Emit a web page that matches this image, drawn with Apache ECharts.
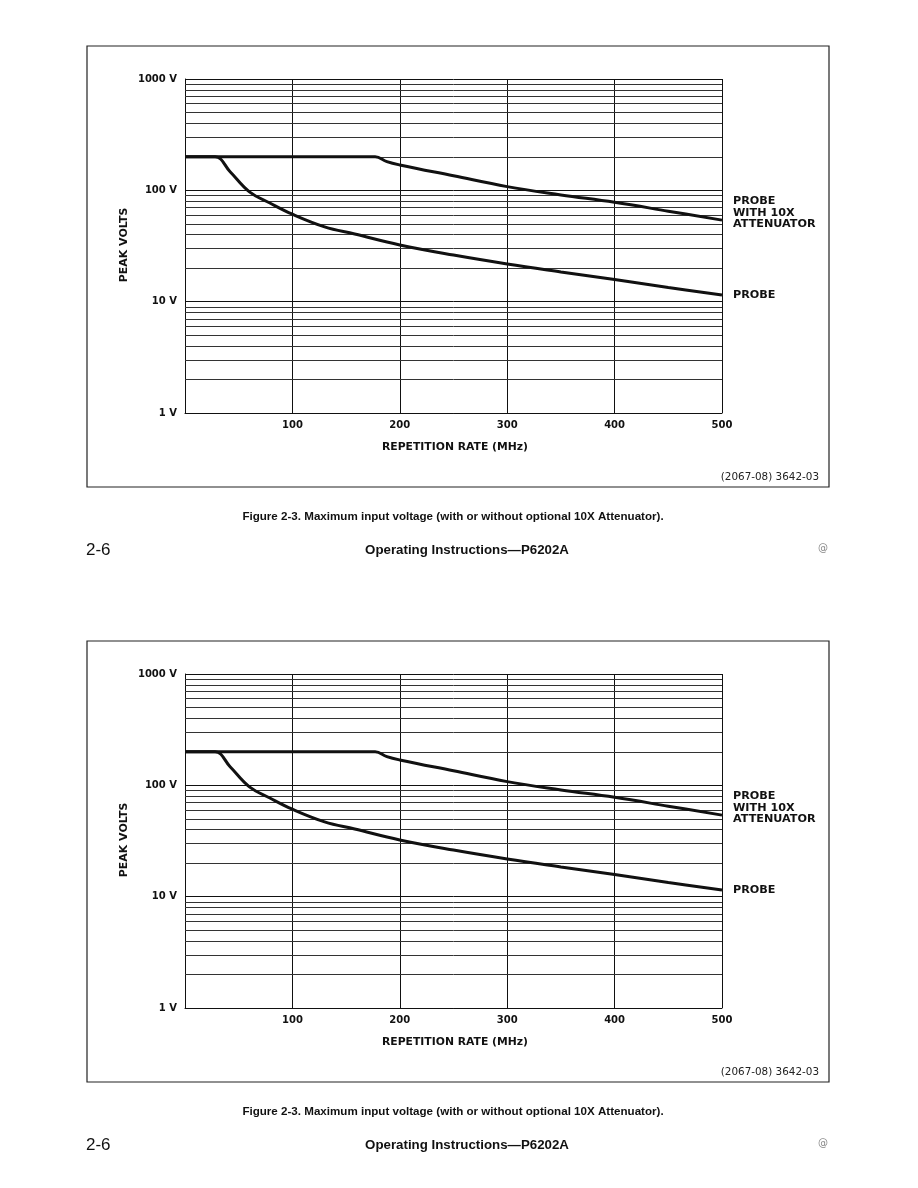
<!DOCTYPE html>
<html>
<head>
<meta charset="utf-8">
<script src="https://cdn.jsdelivr.net/npm/echarts@6/dist/echarts.min.js"></script>
<style>
html,body{margin:0;padding:0;background:#fff;}
#c{width:918px;height:1188px;}
</style>
</head>
<body>
<div id="c"></div>
<script>
// ---- data ----
const xTickValues = [100, 200, 300, 400, 500];
const yTickLabels = ['1 V', '10 V', '100 V', '1000 V'];
const minorGridVolts = [2,3,4,5,6,7,8,9, 20,30,40,50,60,70,80,90, 200,300,400,500,600,700,800,900];

const probeMHz   = [0, 28, 42, 60, 79, 100, 130, 158, 200, 250, 300, 350, 400, 450, 500];
const probeVolts = [200, 200, 147, 97, 77, 61, 47, 40.5, 32.3, 26.2, 21.8, 18.5, 15.8, 13.4, 11.5];

const attenMHz   = [0, 177, 188, 200, 250, 300, 350, 400, 450, 500];
const attenVolts = [200, 200, 181, 169, 135, 108, 91, 78, 65, 54];

const labelAtten = ['PROBE', 'WITH 10X', 'ATTENUATOR'];
const labelProbe = 'PROBE';
const xName = 'REPETITION RATE (MHz)';
const yName = 'PEAK VOLTS';
const codeText = '(2067-08) 3642-03';
const captionText = 'Figure 2-3. Maximum input voltage (with or without optional 10X Attenuator).';
const footerLeft = '2-6';
const footerMid = 'Operating Instructions\u2014P6202A';
const footerRight = '@';

// ---- layout ----
const offsets = [0, 595];
const chart = echarts.init(document.getElementById('c'), null, {renderer: 'canvas'});
const ink = '#111';
const tickFont = {fontFamily: 'DejaVu Sans', fontWeight: 'bold', fontSize: 10, color: ink};
const narrow = '"Liberation Sans Narrow", "Liberation Sans", sans-serif';

const grids = [], xAxes = [], yAxes = [], series = [], graphics = [];
offsets.forEach((off, i) => {
  grids.push({left: 185, top: 79 + off, width: 537, height: 334});
  xAxes.push({
    type: 'value', gridIndex: i, min: 0, max: 500, interval: 100,
    axisLine: {show: true, lineStyle: {color: ink, width: 1}},
    axisTick: {show: false},
    axisLabel: Object.assign({margin: 7, formatter: v => (xTickValues.indexOf(v) < 0 ? '' : String(v))}, tickFont),
    splitLine: {show: true, lineStyle: {color: ink, width: 1}}
  });
  yAxes.push({
    type: 'log', logBase: 10, gridIndex: i, min: 1, max: 1000,
    axisLine: {show: true, lineStyle: {color: ink, width: 1}},
    axisTick: {show: false},
    axisLabel: Object.assign({margin: 8, formatter: v => yTickLabels[Math.round(Math.log10(v))]}, tickFont),
    splitLine: {show: true, lineStyle: {color: ink, width: 1}}
  });
  series.push({
    type: 'line', xAxisIndex: i, yAxisIndex: i, silent: true,
    data: [],
    markLine: {
      silent: true, symbol: 'none', label: {show: false},
      lineStyle: {color: '#333', width: 1, type: 'solid'},
      data: minorGridVolts.map(v => ({yAxis: v}))
    }
  });
  series.push({
    type: 'line', xAxisIndex: i, yAxisIndex: i, silent: true, symbol: 'none',
    smooth: 0.4,
    lineStyle: {color: ink, width: 3},
    data: probeMHz.map((m, k) => [m, probeVolts[k]]), z: 5
  });
  series.push({
    type: 'line', xAxisIndex: i, yAxisIndex: i, silent: true, symbol: 'none',
    smooth: 0.4,
    lineStyle: {color: ink, width: 3},
    data: attenMHz.map((m, k) => [m, attenVolts[k]]), z: 5
  });

  // frame
  graphics.push({type: 'rect', shape: {x: 87, y: 46 + off, width: 742, height: 441},
    style: {fill: null, stroke: '#222', lineWidth: 1.2}, silent: true});
  // axis names
  graphics.push({type: 'text', x: 124, y: 245 + off, rotation: Math.PI / 2,
    style: {text: yName, fontFamily: 'DejaVu Sans', fontWeight: 'bold', fontSize: 11, fill: ink,
      align: 'center', verticalAlign: 'middle'}});
  graphics.push({type: 'text', x: 455, y: 447 + off,
    style: {text: xName, fontFamily: 'DejaVu Sans', fontWeight: 'bold', fontSize: 10.8, fill: ink,
      align: 'center', verticalAlign: 'middle'}});
  graphics.push({type: 'text', x: 819, y: 477 + off,
    style: {text: codeText, fontFamily: 'DejaVu Sans', fontSize: 10.4, fill: '#222',
      align: 'right', verticalAlign: 'middle'}});
  labelAtten.forEach((t, k) => {
    graphics.push({type: 'text', x: 733, y: 201 + off + k * 11.7,
      style: {text: t, fontFamily: 'DejaVu Sans', fontWeight: 'bold', fontSize: 11.2, fill: ink,
        align: 'left', verticalAlign: 'middle'}});
  });
  graphics.push({type: 'text', x: 733, y: 295 + off,
    style: {text: labelProbe, fontFamily: 'DejaVu Sans', fontWeight: 'bold', fontSize: 11.2, fill: ink,
      align: 'left', verticalAlign: 'middle'}});
  // caption & footer
  graphics.push({type: 'text', x: 453, y: 517 + off,
    style: {text: captionText, fontFamily: narrow, fontWeight: 'bold', fontSize: 11.6, fill: ink,
      align: 'center', verticalAlign: 'middle'}});
  graphics.push({type: 'text', x: 86, y: 550 + off,
    style: {text: footerLeft, fontFamily: narrow, fontSize: 17, fill: ink,
      align: 'left', verticalAlign: 'middle'}});
  graphics.push({type: 'text', x: 467, y: 550 + off,
    style: {text: footerMid, fontFamily: narrow, fontWeight: 'bold', fontSize: 13.3, fill: ink,
      align: 'center', verticalAlign: 'middle'}});
  graphics.push({type: 'text', x: 823, y: 548 + off,
    style: {text: footerRight, fontFamily: 'DejaVu Sans', fontSize: 10, fill: '#888',
      align: 'center', verticalAlign: 'middle'}});
});

chart.setOption({
  animation: false,
  backgroundColor: '#fff',
  grid: grids, xAxis: xAxes, yAxis: yAxes, series: series, graphic: graphics
});
</script>
</body>
</html>
